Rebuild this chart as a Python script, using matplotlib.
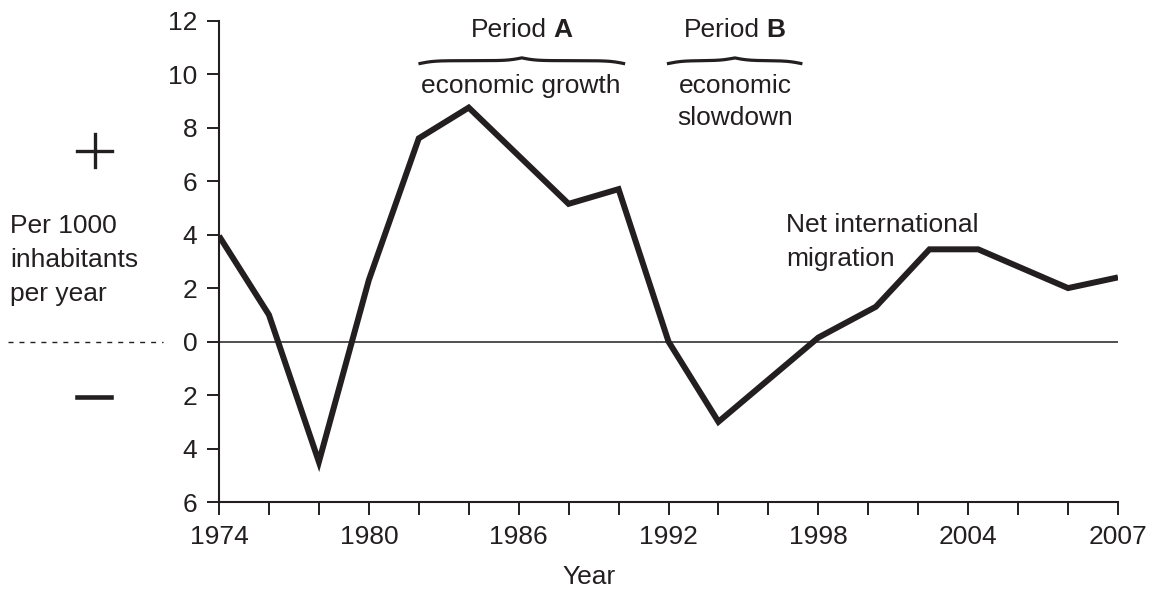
import numpy as np
import matplotlib
matplotlib.use('Agg')
import matplotlib.pyplot as plt
from matplotlib.lines import Line2D

# net international migration, per 1000 inhabitants per year
years = [1974, 1976, 1978, 1980, 1982, 1984, 1986, 1988, 1990, 1992,
         1994, 1998, 2000.3, 2002.45, 2004.2, 2006, 2007]
migration = [3.95, 1.0, -4.5, 2.3, 7.6, 8.75, 6.95, 5.15, 5.7, 0.0,
             -3.0, 0.15, 1.3, 3.45, 3.45, 2.0, 2.4]

tick_years = list(range(1974, 2005, 2)) + [2005, 2006, 2007]
label_years = [1974, 1980, 1986, 1992, 1998, 2004, 2007]
y_ticks = list(range(-6, 13, 2))

# period braces: (start, end)
period_a = (1982.05, 1990.2)
period_b = (1992.0, 1997.3)

INK = '#231f20'
W, H = 1154, 590

plt.rcParams['font.family'] = ['Liberation Sans', 'DejaVu Sans']
plt.rcParams['font.size'] = 19
plt.rcParams['text.color'] = INK

# axis is evenly spaced per tick: 2 yrs/tick up to 2004, then 1 yr/tick
YK = [1974, 2004, 2007]
PK = [0, 15, 18]

def fwd(x):
    return np.interp(x, YK, PK)

def inv(p):
    return np.interp(p, PK, YK)

def px(x, y):
    return x / W, 1 - y / H

fig = plt.figure(figsize=(W / 100, H / 100), dpi=100)
ax = fig.add_axes([219 / W, 1 - 502 / H, (1118 - 219) / W, (502 - 20.7) / H])
ax.set_xscale('function', functions=(fwd, inv))
ax.set_xlim(1974, 2007)
ax.set_ylim(-6, 12)

ax.plot(years, migration, color=INK, lw=4.3, solid_joinstyle='miter',
        solid_capstyle='butt', zorder=3)
ax.axhline(0, color=INK, lw=1.1, zorder=2)

for s in ['top', 'right']:
    ax.spines[s].set_visible(False)
for s in ['left', 'bottom']:
    ax.spines[s].set_linewidth(1.5)
    ax.spines[s].set_color(INK)

ax.set_xticks(tick_years)
ax.set_xticklabels([str(y) if y in label_years else '' for y in tick_years])
ax.set_yticks(y_ticks)
ax.set_yticklabels([str(abs(v)) for v in y_ticks])
ax.tick_params(axis='x', length=9.4, width=1.4, pad=7, colors=INK)
ax.tick_params(axis='y', length=8.6, width=1.4, pad=7, colors=INK)


def brace(x0, x1, y_end, h, beta=3.6, n=400):
    xs = np.linspace(x0, x1, n + 1)
    half = xs[:n // 2 + 1]
    yh = (1 / (1 + np.exp(-beta * (half - half[0]))) +
          1 / (1 + np.exp(-beta * (half - half[-1]))))
    yy = np.concatenate((yh, yh[-2::-1]))
    return xs, y_end + (yy - 0.5) * h

for (x0, x1) in [period_a, period_b]:
    bx, by = brace(x0, x1, 10.4, 0.21)
    ax.plot(bx, by, color=INK, lw=2.3, clip_on=False)

# period labels
fig.text(*px(547, 36.7), 'Period', ha='right', va='baseline')
fig.text(*px(553, 36.7), 'A', ha='left', va='baseline', fontweight='bold')
fig.text(*px(521, 93.3), 'economic growth', ha='center', va='baseline')
fig.text(*px(760, 36.7), 'Period', ha='right', va='baseline')
fig.text(*px(766, 36.7), 'B', ha='left', va='baseline', fontweight='bold')
fig.text(*px(735, 93.3), 'economic', ha='center', va='baseline')
fig.text(*px(735, 125), 'slowdown', ha='center', va='baseline')

fig.text(*px(786, 231.7), 'Net international', ha='left', va='baseline')
fig.text(*px(786, 266), 'migration', ha='left', va='baseline')

fig.text(*px(10, 233.3), 'Per 1000', ha='left', va='baseline')
fig.text(*px(10, 266.7), 'inhabitants', ha='left', va='baseline')
fig.text(*px(10, 300.5), 'per year', ha='left', va='baseline')

fig.text(*px(589, 584), 'Year', ha='center', va='baseline')

# plus / minus signs and dashed zero marker on the left
x_a, y_a = px(77, 150.5)
x_b, _ = px(112, 150.5)
fig.add_artist(Line2D([x_a, x_b], [y_a, y_a], color=INK, lw=2.4))
xc, y_top = px(94.5, 134)
_, y_bot = px(94.5, 167)
fig.add_artist(Line2D([xc, xc], [y_top, y_bot], color=INK, lw=2.4))
m0, my = px(77, 396.7)
m1, _ = px(111, 396.7)
fig.add_artist(Line2D([m0, m1], [my, my], color=INK, lw=3.3))
d0, dy = px(8, 342)
d1, _ = px(163, 342)
fig.add_artist(Line2D([d0, d1], [dy, dy], color=INK, lw=1.0, dashes=(3.6, 4.3)))

fig.savefig('out.png', dpi=100)
